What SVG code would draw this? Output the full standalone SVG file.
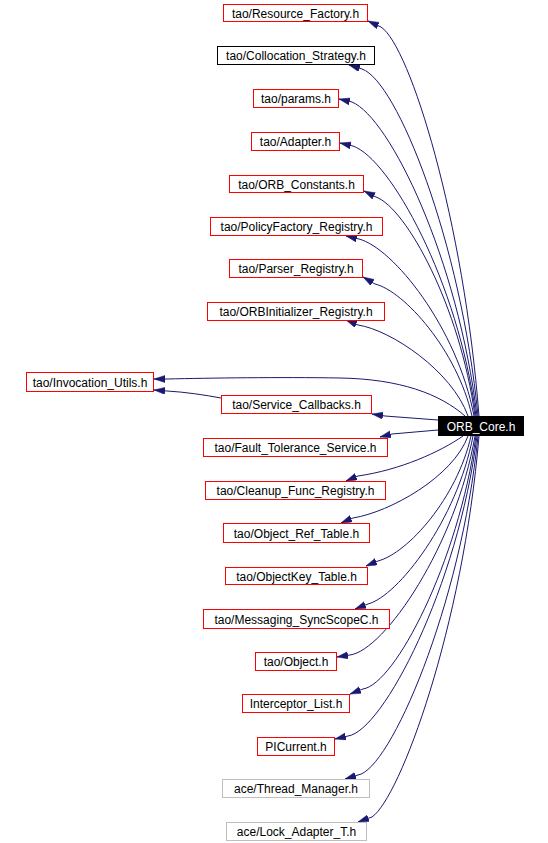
<svg xmlns="http://www.w3.org/2000/svg" width="548" height="843" viewBox="0 0 548 843">
<style>
.n rect{fill:#fff;stroke:#ff0000;stroke-width:1}
.n.k rect{stroke:#000}
.n.g rect{stroke:#bfbfbf}
.n text{font-family:"Liberation Sans",Arial,sans-serif;font-size:12px;fill:#000;text-anchor:middle}
.e path{fill:none;stroke:#191970;stroke-width:1;marker-end:url(#a)}
</style>
<defs>
<marker id="a" markerWidth="12" markerHeight="8" refX="11" refY="3.5" orient="auto" markerUnits="userSpaceOnUse">
<path d="M0,0 L11,3.5 L0,7 z" fill="#191970" stroke="#191970" stroke-width="0.5"/>
</marker>
</defs>
<rect width="548" height="843" fill="#fff"/>
<g id="edges" class="e">
<path d="M479,416 C464,221 410,46 381,27 L368,21"/>
<path d="M478,416 C461,242 397,81 362,69 L349,65"/>
<path d="M477,416 C458,259 390,118 352,102 L339,99"/>
<path d="M476,416 C458,281 390,159 353,146 L340,143"/>
<path d="M475,416 C460,306 406,208 376,197 L364,191"/>
<path d="M474,416 C457,327 393,248 359,239 L346,236"/>
<path d="M472,416 C457,350 404,291 375,284 L363,277"/>
<path d="M468,416 C452,371 391,330 358,325 L346,320"/>
<path d="M465,416 C440,394 400,379 340,378 C280,377 210,378 167,379 L154,379"/>
<path d="M221,398 C205,395 185,392 167,391 L154,390"/>
<path d="M438,420 L385,416 L372,414"/>
<path d="M438,430 L392,434 L380,437"/>
<path d="M463,436 C440,452 400,470 358,476 L346,481"/>
<path d="M468,436 C453,477 390,512 353,518 L341,523"/>
<path d="M471,436 C457,498 408,553 378,561 L366,566"/>
<path d="M473,436 C457,520 398,596 368,604 L355,609"/>
<path d="M475,436 C456,545 385,650 350,655 L337,657"/>
<path d="M476,436 C458,563 395,684 363,689 L350,694"/>
<path d="M477,436 C458,586 383,731 348,736 L335,739"/>
<path d="M478,436 C461,606 390,770 358,775 L345,779"/>
<path d="M479,436 C463,627 400,798 372,817 L358,822"/>
</g>
<g id="n1" class="n"><rect x="223.5" y="4.5" width="144" height="17"/><text x="295.5" y="17.5">tao/Resource_Factory.h</text></g>
<g id="n2" class="n k"><rect x="217.5" y="46.5" width="157" height="18"/><text x="296" y="60">tao/Collocation_Strategy.h</text></g>
<g id="n3" class="n"><rect x="253.5" y="89.5" width="85" height="18"/><text x="296" y="103">tao/params.h</text></g>
<g id="n4" class="n"><rect x="251.5" y="132.5" width="88" height="18"/><text x="295.5" y="146">tao/Adapter.h</text></g>
<g id="n5" class="n"><rect x="229.5" y="175.5" width="134" height="17"/><text x="296.5" y="188.5">tao/ORB_Constants.h</text></g>
<g id="n6" class="n"><rect x="210.5" y="217.5" width="172" height="18"/><text x="296.5" y="231">tao/PolicyFactory_Registry.h</text></g>
<g id="n7" class="n"><rect x="229.5" y="259.5" width="133" height="18"/><text x="296" y="273">tao/Parser_Registry.h</text></g>
<g id="n8" class="n"><rect x="207.5" y="302.5" width="177" height="18"/><text x="296" y="316">tao/ORBInitializer_Registry.h</text></g>
<g id="n9" class="n"><rect x="26.5" y="372.5" width="127" height="19"/><text x="90" y="386.5">tao/Invocation_Utils.h</text></g>
<g id="n10" class="n"><rect x="221.5" y="395.5" width="150" height="18"/><text x="296.5" y="409">tao/Service_Callbacks.h</text></g>
<g id="n0"><rect x="438" y="416" width="86" height="20" fill="#000"/><text x="481" y="430.5" font-family="Liberation Sans,Arial,sans-serif" font-size="12" fill="#fff" text-anchor="middle">ORB_Core.h</text></g>
<g id="n11" class="n"><rect x="203.5" y="438.5" width="184" height="18"/><text x="295.5" y="452">tao/Fault_Tolerance_Service.h</text></g>
<g id="n12" class="n"><rect x="205.5" y="481.5" width="180" height="18"/><text x="295.5" y="495">tao/Cleanup_Func_Registry.h</text></g>
<g id="n13" class="n"><rect x="223.5" y="523.5" width="146" height="19"/><text x="296.5" y="537.5">tao/Object_Ref_Table.h</text></g>
<g id="n14" class="n"><rect x="225.5" y="567.5" width="142" height="17"/><text x="296.5" y="580.5">tao/ObjectKey_Table.h</text></g>
<g id="n15" class="n"><rect x="203.5" y="609.5" width="186" height="19"/><text x="296.5" y="623.5">tao/Messaging_SyncScopeC.h</text></g>
<g id="n16" class="n"><rect x="255.5" y="652.5" width="81" height="18"/><text x="296" y="666">tao/Object.h</text></g>
<g id="n17" class="n"><rect x="242.5" y="694.5" width="107" height="18"/><text x="296" y="708">Interceptor_List.h</text></g>
<g id="n18" class="n"><rect x="257.5" y="737.5" width="77" height="18"/><text x="296" y="751">PICurrent.h</text></g>
<g id="n19" class="n g"><rect x="222.5" y="779.5" width="147" height="18"/><text x="296" y="793">ace/Thread_Manager.h</text></g>
<g id="n20" class="n g"><rect x="226.5" y="822.5" width="140" height="18"/><text x="296.5" y="836">ace/Lock_Adapter_T.h</text></g>
</svg>
